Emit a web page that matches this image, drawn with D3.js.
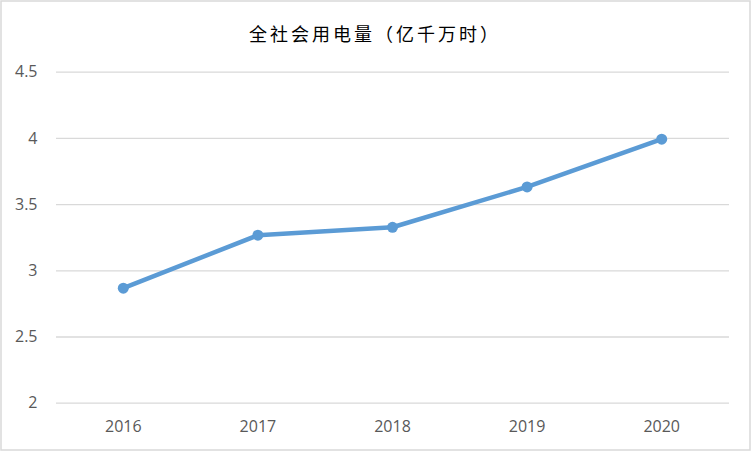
<!DOCTYPE html>
<html>
<head>
<meta charset="utf-8">
<script src="https://cdn.jsdelivr.net/npm/d3@7"></script>
<style>
  body { margin: 0; background: #fff; }
  svg text { font-family: "Open Sans", "Liberation Sans", sans-serif; }
</style>
</head>
<body>
<svg width="752" height="452"></svg>
<script>
// chart data
var years = ["2016", "2017", "2018", "2019", "2020"];
var usage = [2.865, 3.265, 3.325, 3.63, 3.99];
var yTicks = [2, 2.5, 3, 3.5, 4, 4.5];
var title = "全社会用电量（亿千万时）";

var svg = d3.select("svg"),
    width = +svg.attr("width"),
    height = +svg.attr("height");

// outer frame
svg.append("rect")
    .attr("x", 1).attr("y", 1)
    .attr("width", width - 3).attr("height", height - 3)
    .attr("fill", "#fff")
    .attr("stroke", "#d9d9d9")
    .attr("stroke-width", 1.5);

var x = d3.scaleBand()
    .domain(years)
    .range([56, 729]);

var y = d3.scaleLinear()
    .domain([2, 4.5])
    .range([402.7, 71.7]);

// title (wide CJK spacing like the original)
svg.append("text")
    .attr("x", 375)
    .attr("y", 41)
    .attr("text-anchor", "middle")
    .attr("font-size", 18)
    .attr("letter-spacing", 3)
    .attr("fill", "#000")
    .style("font-family", "'Noto Sans CJK SC', sans-serif")
    .text(title);

// gridlines + y labels
var yAxis = svg.append("g")
    .attr("transform", "translate(56,0)")
    .call(d3.axisLeft(y)
        .tickValues(yTicks)
        .tickSize(-(729 - 56))
        .tickPadding(18.5)
        .tickFormat(d3.format("")));
yAxis.select(".domain").remove();
yAxis.selectAll("line").attr("stroke", "#d9d9d9").attr("stroke-width", 1.3);
yAxis.selectAll("text")
    .attr("fill", "#595959")
    .attr("font-size", 16)
    .style("font-family", "'Open Sans', sans-serif");

// x labels
var xAxis = svg.append("g")
    .attr("transform", "translate(0,402.7)")
    .call(d3.axisBottom(x).tickSize(0).tickPadding(18));
xAxis.select(".domain").remove();
xAxis.selectAll("text")
    .attr("fill", "#595959")
    .attr("font-size", 16)
    .style("font-family", "'Open Sans', sans-serif");

var cx = function(d, i) { return x(years[i]) + x.bandwidth() / 2; };

var line = d3.line()
    .x(cx)
    .y(function(d) { return y(d); });

svg.append("path")
    .datum(usage)
    .attr("fill", "none")
    .attr("stroke", "#5b9bd5")
    .attr("stroke-width", 4.5)
    .attr("stroke-linejoin", "round")
    .attr("d", line);

svg.selectAll("circle.pt")
    .data(usage)
    .enter().append("circle")
    .attr("class", "pt")
    .attr("cx", cx)
    .attr("cy", function(d) { return y(d); })
    .attr("r", 5.5)
    .attr("fill", "#5b9bd5");
</script>
</body>
</html>
